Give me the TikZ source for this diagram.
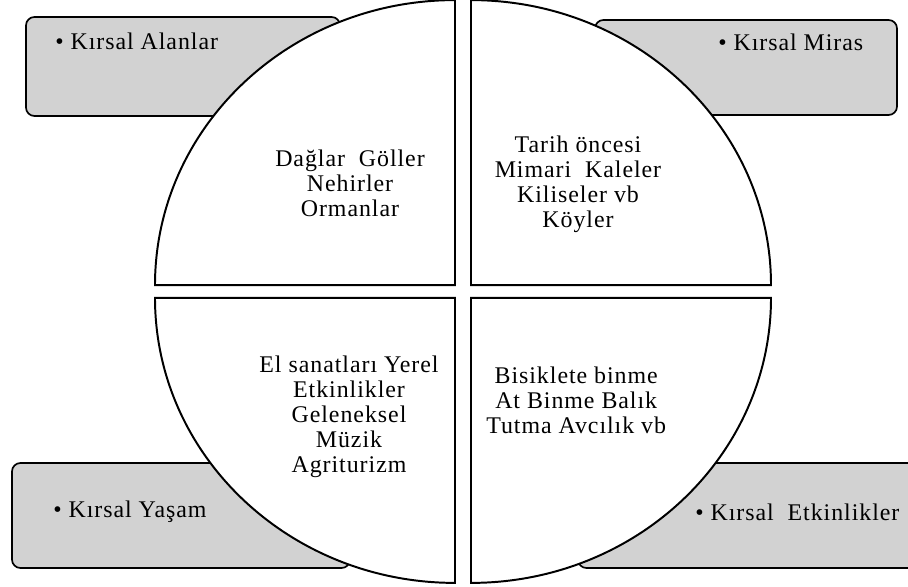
\documentclass[tikz,border=0pt]{standalone}
\usepackage{fontspec}
\setmainfont[LetterSpace=4]{Liberation Serif}

\begin{document}
\begin{tikzpicture}[
    panel/.style={draw=black, line width=1.4pt, fill=white},
    tab/.style={draw=black, line width=1.2pt, fill=gray!35, rounded corners=6pt},
    body/.style={font=\fontsize{17}{17.8}\selectfont, align=center},
    tablabel/.style={font=\fontsize{17}{17.8}\selectfont, anchor=west, inner sep=0pt}
]
    % Page frame
    \clip (-11.575,-7.3875) rectangle (11.125,7.2875);

    % Grey tabs (behind the quarters)
    \draw[tab] (-10.925,4.3875) rectangle (-3.075,6.8625);
    \draw[tab] (3.3,4.4125) rectangle (10.85,6.7875);
    \draw[tab] (-11.275,-6.9125) rectangle (-2.825,-4.2875);
    \draw[tab] (2.875,-6.9125) rectangle (11.8,-4.2875);

    % Tab labels
    \node[tablabel] (alanlar) at (-10.2,6.26) {• Kırsal Alanlar};
    \node[tablabel] (miras) at (6.375,6.24) {• Kırsal Miras};
    \node[tablabel] (yasam) at (-10.25,-5.51) {• Kırsal Yaşam};
    \node[tablabel] (etkinlik) at (5.8,-5.51) {• Kırsal~~Etkinlikler};

    % Four quarters
    \draw[panel] (-0.2,0.16) -- ++(0,7.125)
        arc[start angle=90, end angle=180, x radius=7.5, y radius=7.125] -- cycle;
    \draw[panel] (0.2,0.16) -- ++(0,7.125)
        arc[start angle=90, end angle=0, x radius=7.5, y radius=7.125] -- cycle;
    \draw[panel] (-0.2,-0.16) -- ++(0,-7.125)
        arc[start angle=270, end angle=180, x radius=7.5, y radius=7.125] -- cycle;
    \draw[panel] (0.2,-0.16) -- ++(0,-7.125)
        arc[start angle=270, end angle=360, x radius=7.5, y radius=7.125] -- cycle;

    % Quarter texts
    \node[body] (doga) at (-2.825,2.71) {Dağlar~~Göller\\Nehirler\\Ormanlar};
    \node[body] (miras list) at (2.875,2.69) {Tarih öncesi\\Mimari~~Kaleler\\Kiliseler vb\\Köyler};
    \node[body] (yasam list) at (-2.85,-3.14) {El sanatları Yerel\\Etkinlikler\\Geleneksel\\Müzik\\Agriturizm};
    \node[body] (etkinlik list) at (2.83,-2.71) {Bisiklete binme\\At Binme Balık\\Tutma Avcılık vb};
\end{tikzpicture}
\end{document}
